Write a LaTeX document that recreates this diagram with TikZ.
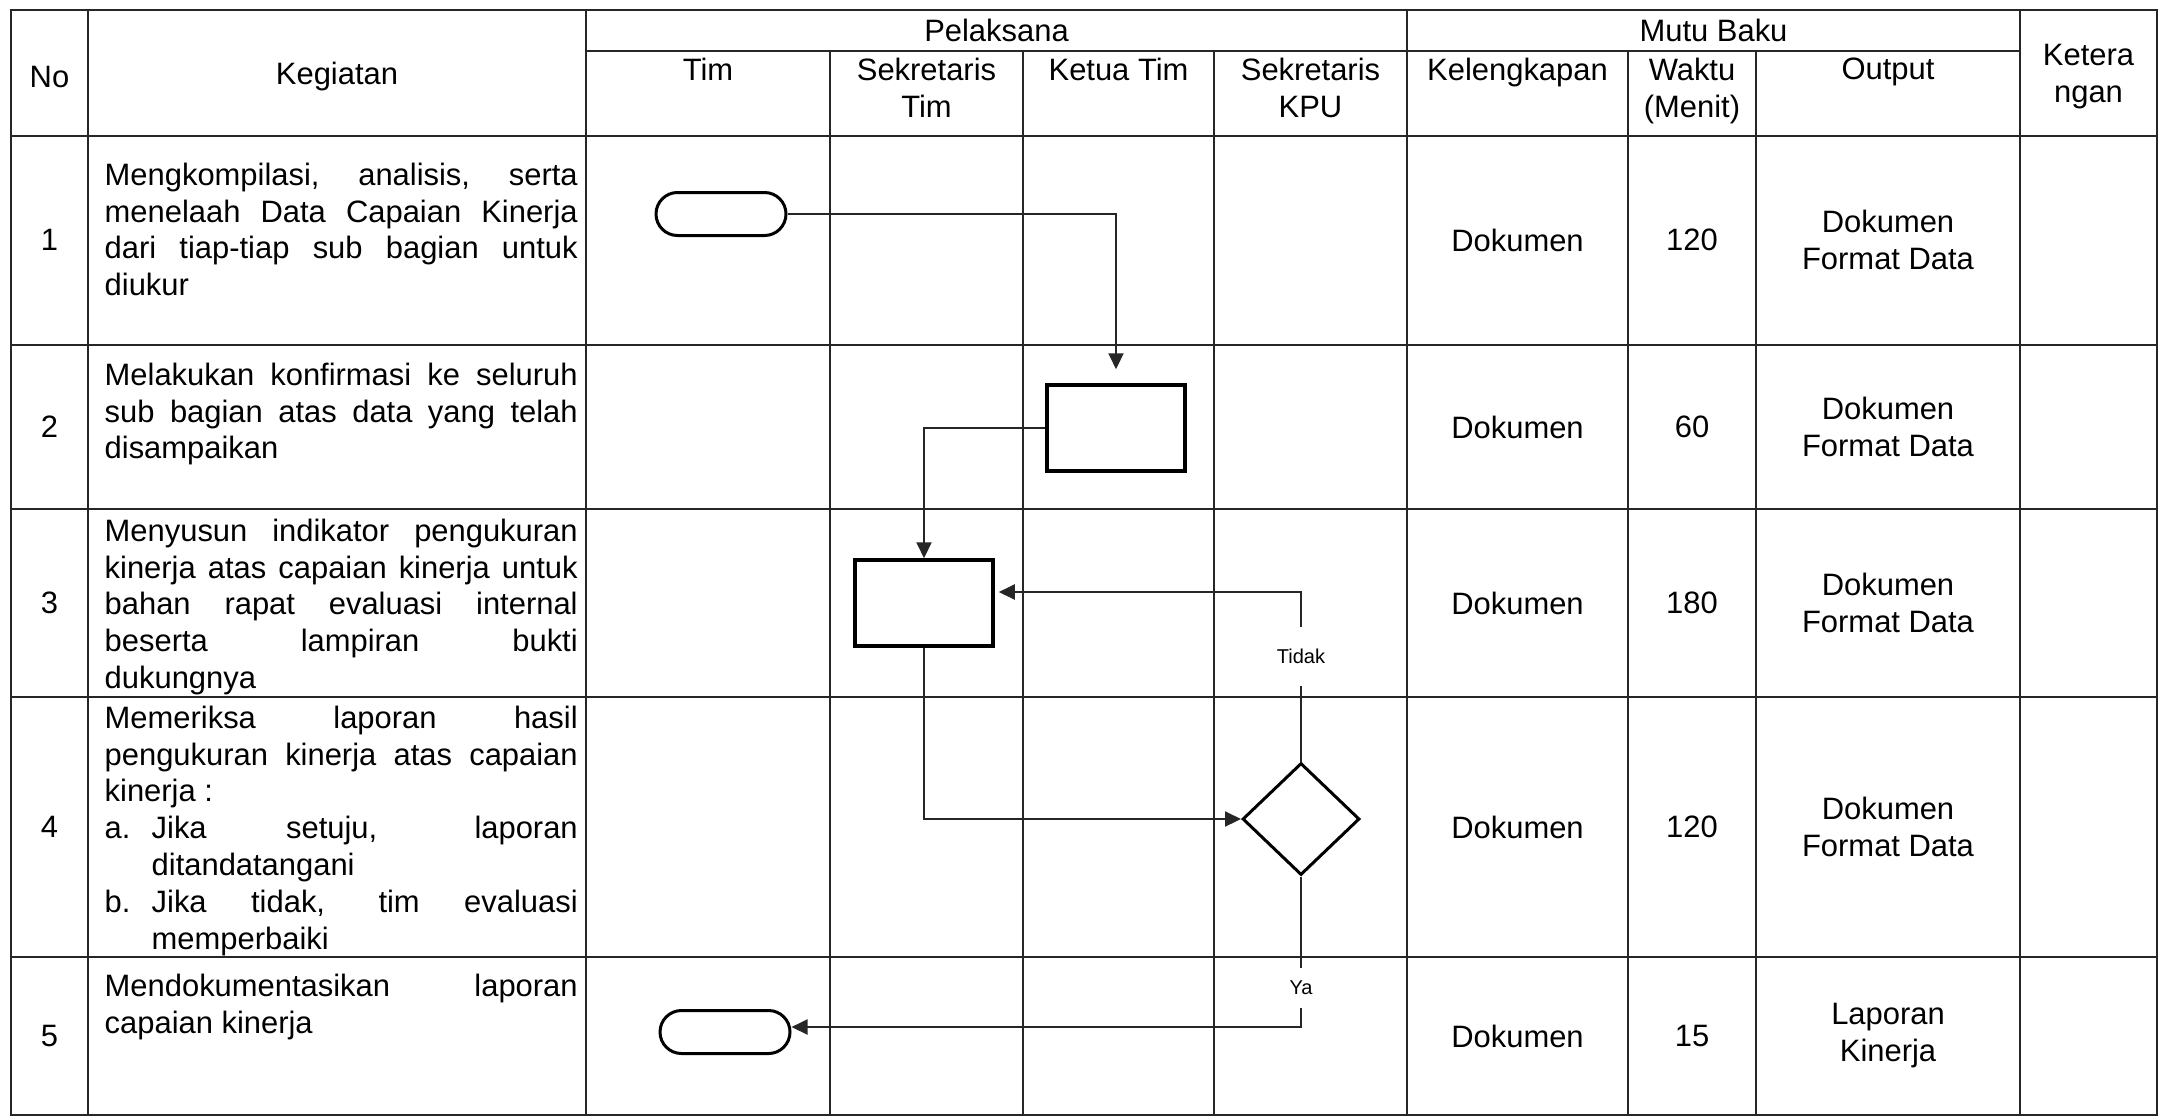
\documentclass[tikz,border=0pt]{standalone}
\usepackage{fontspec}
\setmainfont{Liberation Sans}
\usetikzlibrary{arrows.meta, shapes.geometric, shapes.misc}
\tolerance=10000
\hbadness=10000
\hyphenpenalty=10000
\exhyphenpenalty=10000

\begin{document}
\begin{tikzpicture}[
    x=0.1mm, y=-0.1mm,
    font=\fontsize{8.8}{10.5}\selectfont,
    grid/.style = {draw=black!85, line width=0.2mm},
    cell/.style = {align=center, inner sep=0pt},
    sub/.style  = {cell, anchor=north},
    keg/.style  = {anchor=north west, inner sep=0pt, text width=47.3mm, align=justify},
    term/.style = {draw, rounded rectangle, line width=0.3mm, minimum width=13mm, minimum height=4.3mm, inner sep=0pt},
    proc/.style = {draw, line width=0.35mm, minimum width=13.8mm, minimum height=8.6mm, inner sep=0pt},
    cek/.style  = {draw, diamond, line width=0.3mm, minimum width=11.7mm, minimum height=11.2mm, inner sep=0pt},
    flow/.style = {draw=black!85, line width=0.2mm, -{Triangle[length=1.6mm,width=1.5mm]}},
    tag/.style  = {font=\fontsize{5.7}{7}\selectfont, fill=white, inner xsep=1pt}
  ]
  \useasboundingbox (0,0) rectangle (2167,1119);
%
  \draw[grid] (11,10) rectangle (2157,1115);
  \draw[grid] (11,136) -- (2157,136) (11,345) -- (2157,345) (11,509) -- (2157,509)
              (11,697) -- (2157,697) (11,957) -- (2157,957) (586,51) -- (2020,51);
  \draw[grid] (88,10) -- (88,1115) (586,10) -- (586,1115) (1407,10) -- (1407,1115)
              (2020,10) -- (2020,1115);
  \draw[grid] (830,51) -- (830,1115) (1023,51) -- (1023,1115) (1214,51) -- (1214,1115)
              (1628,51) -- (1628,1115) (1756,51) -- (1756,1115);
%
  \node[cell] (hNo)   at (49.5,77)   {No};
  \node[cell] (hKeg)  at (337,77)    {Kegiatan};
  \node[cell] (hPel)  at (996.5,30)  {Pelaksana};
  \node[cell] (hMutu) at (1713.5,30) {Mutu Baku};
  \node[cell] (hKet)  at (2088.5,77) {Ketera\\ngan};
  \node[sub] (hTim)    at (708,57)    {Tim};
  \node[sub] (hSekTim) at (926.5,57)  {Sekretaris\\Tim};
  \node[sub] (hKetua)  at (1118.5,57) {Ketua Tim};
  \node[sub] (hSekKPU) at (1310.5,57) {Sekretaris\\KPU};
  \node[sub] (hKel)    at (1517.5,57) {Kelengkapan};
  \node[sub] (hWaktu)  at (1692,57)   {Waktu\\(Menit)};
  \node[sub] (hOut)    at (1888,57)   {Output};
%
  \node[cell] (no1) at (49.5,240)  {1};
  \node[cell] (no2) at (49.5,427)  {2};
  \node[cell] (no3) at (49.5,603)  {3};
  \node[cell] (no4) at (49.5,827)  {4};
  \node[cell] (no5) at (49.5,1036) {5};
%
  \node[keg] (keg1) at (104,162) {Mengkompilasi, analisis, serta\linebreak
    menelaah Data Capaian Kinerja\linebreak dari tiap-tiap sub bagian untuk\linebreak diukur};
  \node[keg] (keg2) at (104,362) {Melakukan konfirmasi ke seluruh\linebreak
    sub bagian atas data yang telah\linebreak disampaikan};
  \node[keg] (keg3) at (104,518) {Menyusun indikator pengukuran\linebreak
    kinerja atas capaian kinerja untuk\linebreak bahan rapat evaluasi internal\linebreak
    beserta lampiran bukti\linebreak dukungnya};
  \node[keg] (keg4) at (104,705) {Memeriksa laporan hasil\linebreak
    pengukuran kinerja atas capaian\linebreak kinerja :\par
    \noindent\hangindent=4.7mm\hangafter=1\makebox[4.7mm][l]{a.}Jika setuju, laporan\linebreak
    ditandatangani\par
    \noindent\hangindent=4.7mm\hangafter=1\makebox[4.7mm][l]{b.}Jika tidak, tim evaluasi\linebreak
    memperbaiki\par};
  \node[keg] (keg5) at (104,973) {Mendokumentasikan laporan\linebreak capaian kinerja};
%
  \node[cell] (kel1) at (1517.5,240)  {Dokumen};
  \node[cell] (kel2) at (1517.5,427)  {Dokumen};
  \node[cell] (kel3) at (1517.5,603)  {Dokumen};
  \node[cell] (kel4) at (1517.5,827)  {Dokumen};
  \node[cell] (kel5) at (1517.5,1036) {Dokumen};
  \node[cell] (wkt1) at (1692,240)  {120};
  \node[cell] (wkt2) at (1692,427)  {60};
  \node[cell] (wkt3) at (1692,603)  {180};
  \node[cell] (wkt4) at (1692,827)  {120};
  \node[cell] (wkt5) at (1692,1036) {15};
  \node[cell] (out1) at (1888,240)  {Dokumen\\Format Data};
  \node[cell] (out2) at (1888,427)  {Dokumen\\Format Data};
  \node[cell] (out3) at (1888,603)  {Dokumen\\Format Data};
  \node[cell] (out4) at (1888,827)  {Dokumen\\Format Data};
  \node[cell] (out5) at (1888,1036) {Laporan\\Kinerja};
%
  \node[term] (t1) at (721,214)  {};
  \node[proc] (b2) at (1116,428) {};
  \node[proc] (b3) at (924,603)  {};
  \node[cek]  (d4) at (1301,819) {};
  \node[term] (t5) at (725,1032) {};
%
  \draw[flow, shorten >=1.4mm] (t1) -| (b2);
  \draw[flow] (b2) -| (b3);
  \draw[flow] (b3) |- (d4);
  \draw[flow, shorten >=0.4mm] (d4) |- node[tag, pos=0.31, inner ysep=2.2mm] (tidak) {Tidak}
    ([yshift=1.1mm] b3.east);
  \draw[flow] (d4) |- node[tag, pos=0.37, inner ysep=1.3mm] (ya) {Ya}
    ([yshift=0.5mm] t5.east);
\end{tikzpicture}
\end{document}
